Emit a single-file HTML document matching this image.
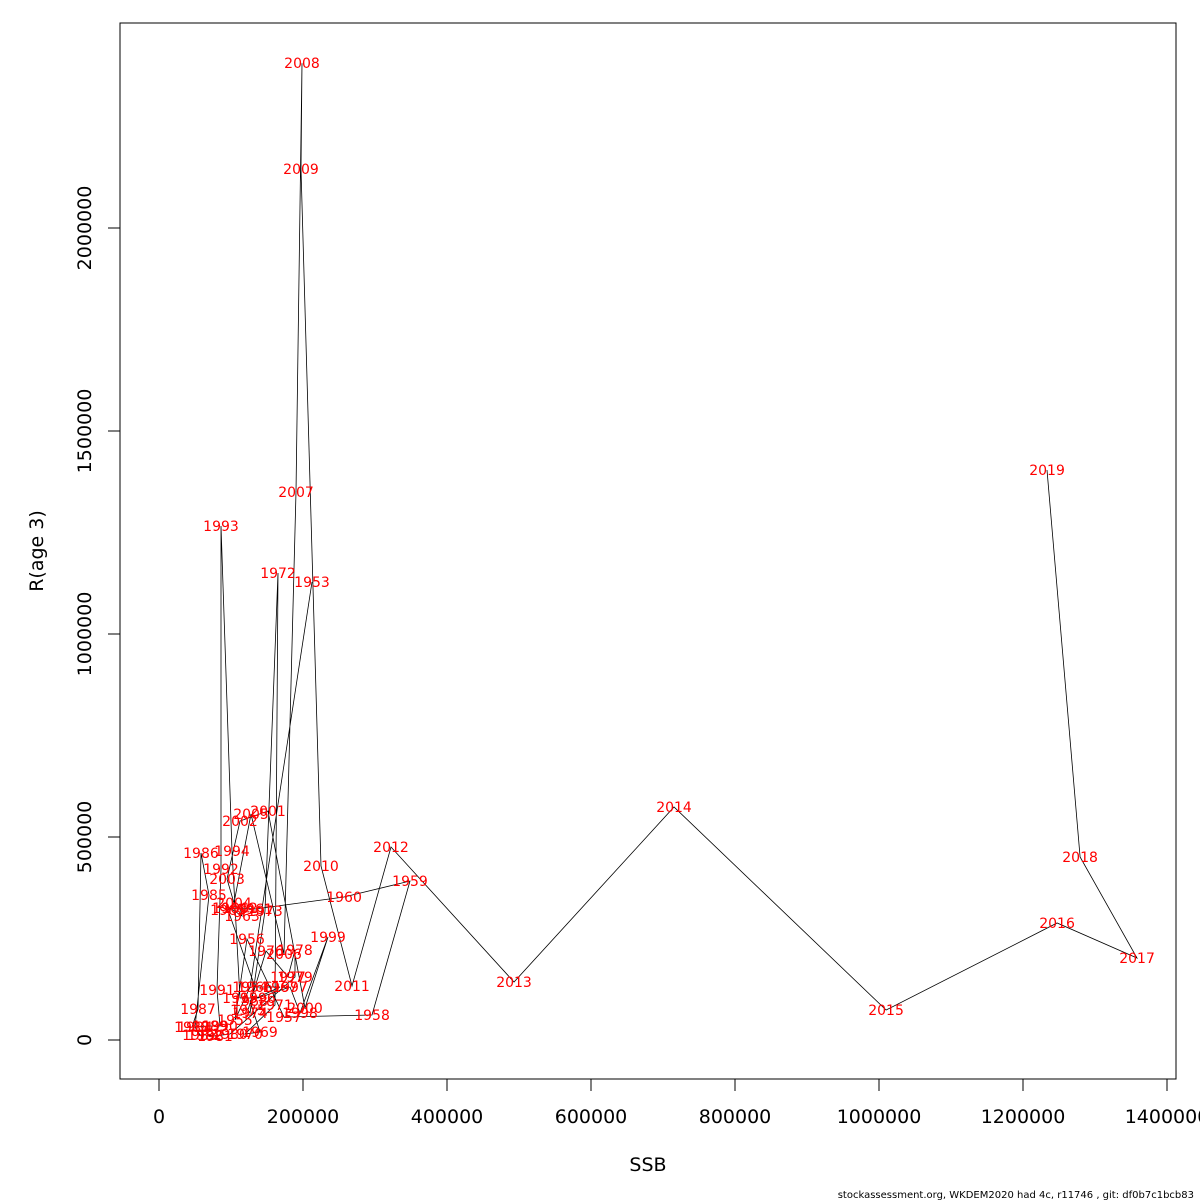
<!DOCTYPE html>
<html><head><meta charset="utf-8"><style>
body{margin:0;background:#fff;}
svg{display:block;font-family:"DejaVu Sans","Liberation Sans",sans-serif;}
</style></head><body>
<svg id="chart" width="1200" height="1200">
<rect x="120" y="23" width="1056" height="1056" fill="none" stroke="#000" stroke-width="1"/>
<g id="xaxis"></g>
<g id="yaxis"></g>
<g id="series"></g>
<text x="648" y="1171" font-size="19" text-anchor="middle">SSB</text>
<text transform="translate(43,551) rotate(-90)" font-size="19" text-anchor="middle">R(age 3)</text>
<text x="1194" y="1198" font-size="10" text-anchor="end">stockassessment.org, WKDEM2020  had  4c, r11746 , git: df0b7c1bcb83</text>
</svg>
<script>
const years=[1953,1954,1955,1956,1957,1958,1959,1960,1961,1962,1963,1964,1965,1966,1967,1968,1969,1970,1971,1972,1973,1974,1975,1976,1977,1978,1979,1980,1981,1982,1983,1984,1985,1986,1987,1988,1989,1990,1991,1992,1993,1994,1995,1996,1997,1998,1999,2000,2001,2002,2003,2004,2005,2006,2007,2008,2009,2010,2011,2012,2013,2014,2015,2016,2017,2018,2019];
const ssb=[212500,126400,105600,122200,173600,295900,348600,257000,133300,112500,115300,98600,95800,133300,168100,126400,140300,119500,161100,165300,147200,126400,123600,148600,179200,188900,188900,98600,77800,63900,56900,50000,69400,58300,54200,45800,70800,84700,80600,86100,86100,101400,112500,137500,182000,195800,234700,202800,151400,112500,94500,104200,127800,173600,190300,198600,197200,225000,268100,322200,493100,715300,1009800,1247300,1358400,1279300,1233400];
const rec=[1128000,130500,49300,248800,56600,61600,391600,352200,322700,325100,305400,325100,320200,130500,130500,96100,19700,14800,86200,1150200,317700,66500,73900,219200,155200,221700,155200,14800,9900,12300,12300,32000,357100,460600,76400,32000,34500,34500,123200,421200,1266000,465500,103400,103400,130500,66500,253700,78800,564000,539400,396500,337400,556600,211800,1349700,2406000,2145000,428600,133000,475400,142900,573900,73900,288200,202000,450700,1403900];
const xTicks=[0,200000,400000,600000,800000,1000000,1200000,1400000];
const yTicks=[0,500000,1000000,1500000,2000000];
const NS="http://www.w3.org/2000/svg";
function sx(v){return 159+v*0.00072;}
function sy(v){return 1040-v*0.000406;}
function mk(t,a,p){const e=document.createElementNS(NS,t);for(const k in a)e.setAttribute(k,a[k]);p.appendChild(e);return e;}
const xa=document.getElementById('xaxis'),ya=document.getElementById('yaxis'),sg=document.getElementById('series');
mk('line',{x1:sx(xTicks[0]),x2:sx(xTicks[xTicks.length-1]),y1:1079,y2:1079,stroke:'#000'},xa);
xTicks.forEach(v=>{
  const l=mk('line',{x1:sx(v),x2:sx(v),y1:1079,y2:1091,stroke:'#000'},xa);
  
  
  const t=mk('text',{x:sx(v),y:1123,'font-size':19,'text-anchor':'middle'},xa);
  t.textContent=String(v);
  
  
});
mk('line',{x1:120,x2:120,y1:sy(yTicks[0]),y2:sy(yTicks[yTicks.length-1]),stroke:'#000'},ya);
yTicks.forEach(v=>{
  const l=mk('line',{x1:108,x2:120,y1:sy(v),y2:sy(v),stroke:'#000'},ya);
  
  
  const t=mk('text',{transform:`translate(91,${sy(v)}) rotate(-90)`,'font-size':19,'text-anchor':'middle'},ya);
  t.textContent=String(v);
  
  
});
const pts=ssb.map((v,i)=>sx(v).toFixed(1)+','+sy(rec[i]).toFixed(1)).join(' ');
const pl=mk('polyline',{points:pts,fill:'none',stroke:'#000','stroke-width':0.8},sg);


years.forEach((y,i)=>{
  const t=mk('text',{x:sx(ssb[i]),y:sy(rec[i])+5,'font-size':14,fill:'#ff0000','text-anchor':'middle'},sg);
  t.textContent=String(y);
  
  
});
</script>
</body></html>
